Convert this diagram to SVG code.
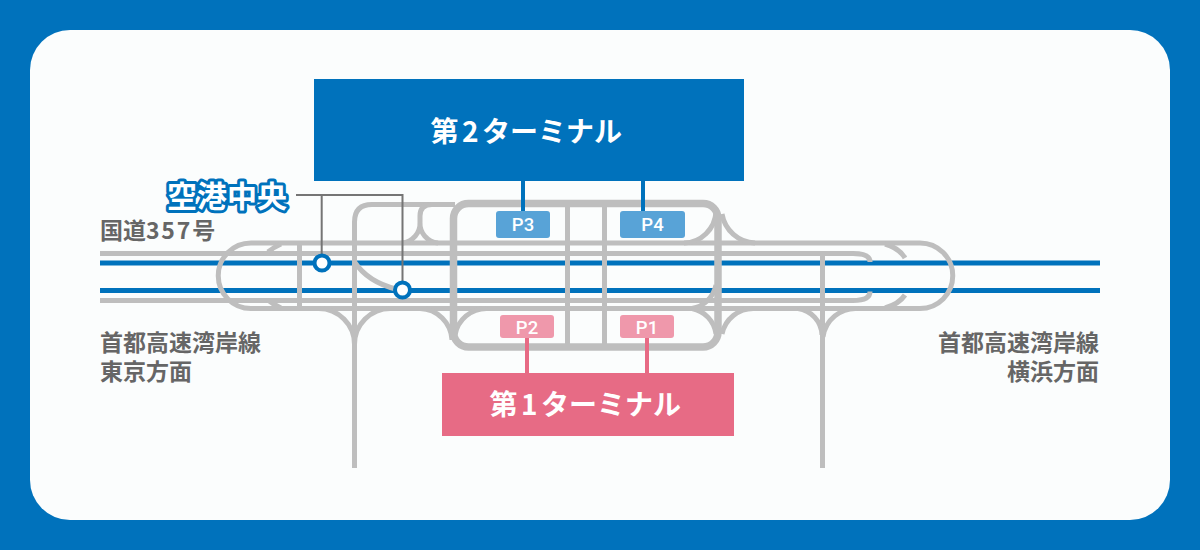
<svg xmlns="http://www.w3.org/2000/svg" width="1200" height="550" viewBox="0 0 1200 550">
<style>
.rail{fill:none;stroke:#0072BC;stroke-width:5}
.road{fill:none;stroke:#BEBEBE;stroke-width:5}
.main{fill:none;stroke:#BEBEBE;stroke-width:7.5}
.call{fill:none;stroke:#757575;stroke-width:2}
.st{fill:#fff;stroke:#0072BC;stroke-width:4}
.jp{font-family:"Noto Sans CJK JP","Noto Sans",sans-serif;font-weight:700}
.lab{font-size:23px;fill:#666}
.term{font-size:28px;fill:#fff}
.p{font-family:"Roboto","Liberation Sans",sans-serif;font-weight:500;font-size:18.500px;fill:#fff;text-anchor:middle}
</style>
<rect width="1200" height="550" fill="#0072BC"/>
<rect x="30" y="30" width="1140" height="490" rx="40" fill="#FBFDFD"/>
<g id="rails">
<path class="rail" d="M100 263H1100M100 290.500H1100"/>
</g>
<g id="connectors">
<path class="road" d="M100 253.500H853Q870 253.500 870 262M100 300.500H853Q870 300.500 870 291.500"/>
<path class="road" d="M251 243H920A32.750 32.750 0 0 1 920 308.500H251A32.750 32.750 0 0 1 251 243Z"/>
<path class="road" d="M268 252Q274 247 281 244M268 300Q274 305 281 308M885 244Q899 248 905 258M885 308Q899 304 905 295"/>
<path class="road" d="M299.500 243V308.500M822.500 253.500V468M354.500 468V222Q354.500 204.500 372 204.500H455"/>
<path class="road" d="M354.500 262Q368 282 396 289"/>
<path class="road" d="M432 204.500Q420 204.500 420 216V222A20 20 0 0 1 402 243M420 222A20 20 0 0 0 438 243"/>
<path class="road" d="M318 308.500A36 36 0 0 1 354.500 345M391 308.500A36 36 0 0 0 354.500 345M420 308.500A33 33 0 0 1 452 340M455 335A32 32 0 0 1 487 308.500M684 243A33 33 0 0 0 716 212M722 214A35 35 0 0 0 755 243M692 308.500A30 30 0 0 0 716 285M692 308.500A30 30 0 0 1 716 334M722 334A32 32 0 0 1 754 308.500M798 308.500A28 28 0 0 1 822 335M858 308.500A33 33 0 0 0 823 337"/>
<path class="road" d="M567.500 204V347M604.500 204V347"/>
<rect class="main" x="453.500" y="203.500" width="264.500" height="143.500" rx="15"/>
<path fill="none" stroke="#0072BC" stroke-width="4" d="M523 181V211M643 181V211"/>
<path fill="none" stroke="#E76B85" stroke-width="4" d="M527 337V373M647 337V373"/>
<path class="call" d="M296 195H402.500V282M321.700 195V256"/>
</g>
<g id="station-1"><circle class="st" cx="322" cy="263" r="7.500"/></g>
<g id="station-2"><circle class="st" cx="402.500" cy="290" r="7.500"/></g>
<g id="label-airport"><text class="jp" x="167" y="207" font-size="30" fill="#fff" stroke="#0072BC" stroke-width="6" stroke-linejoin="round" paint-order="stroke">空港中央</text></g>
<g id="label-route357"><text class="jp lab" x="100" y="239">国道<tspan letter-spacing="1.800">357</tspan>号</text></g>
<g id="label-tokyo"><text class="jp lab" x="100" y="351">首都高速湾岸線</text><text class="jp lab" x="100" y="380">東京方面</text></g>
<g id="label-yokohama"><text class="jp lab" x="1099" y="351" text-anchor="end">首都高速湾岸線</text><text class="jp lab" x="1099" y="380" text-anchor="end">横浜方面</text></g>
<g id="terminal-2"><rect x="314" y="79" width="430" height="102" fill="#0072BC"/><text class="jp term" x="430.500" y="142">第<tspan dx="3.500">2</tspan><tspan dx="3.500">ターミナル</tspan></text></g>
<g id="terminal-1"><rect x="442" y="373" width="292" height="63" fill="#E76B85"/><text class="jp term" x="489.500" y="415">第<tspan dx="3.500">1</tspan><tspan dx="3.500">ターミナル</tspan></text></g>
<g id="p3"><rect x="496" y="211" width="54" height="27" rx="3" fill="#58A3D7"/><text class="p" x="523" y="231">P3</text></g>
<g id="p4"><rect x="620" y="211" width="65" height="27" rx="3" fill="#58A3D7"/><text class="p" x="652.500" y="231">P4</text></g>
<g id="p2"><rect x="500" y="315" width="54" height="23" rx="3" fill="#EF98AB"/><text class="p" x="527" y="333.500">P2</text></g>
<g id="p1"><rect x="620" y="315" width="54" height="23" rx="3" fill="#EF98AB"/><text class="p" x="647" y="333.500">P1</text></g>
</svg>
